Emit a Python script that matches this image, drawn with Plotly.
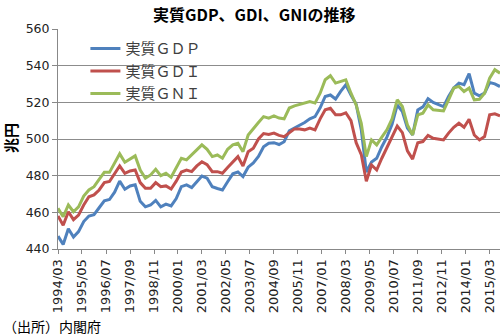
import pandas as pd
import plotly.graph_objects as go

# Quarterly periods 1994/03 .. 2015/09
periods = pd.date_range("1994-03-01", "2015-09-01", freq="3MS")

gdp = [447.0, 442.5, 451.0, 446.5, 449.5, 455.0, 458.0, 458.7, 462.5, 466.3,
       467.0, 471.0, 477.0, 472.6, 474.4, 475.0, 466.0, 463.0, 464.0, 466.5,
       463.0, 464.5, 463.5, 467.5, 474.0, 475.0, 473.5, 477.0, 479.8, 478.6,
       474.0, 473.0, 472.2, 476.7, 481.0, 482.0, 479.5, 484.6, 487.0, 490.5,
       495.8, 497.7, 498.0, 497.0, 498.5, 504.5, 506.0, 507.5, 509.0, 511.0,
       512.2, 517.0, 523.2, 524.0, 521.8, 526.0, 529.6, 524.0, 519.0, 505.0,
       482.0, 487.5, 489.5, 495.8, 501.0, 508.0, 518.6, 515.0, 506.0, 502.2,
       515.9, 517.5, 522.0, 519.9, 518.6, 517.7, 523.2, 527.8, 530.5, 529.6,
       535.6, 525.0, 523.5, 525.0, 530.8, 530.1, 528.6]

gdi = [458.0, 453.0, 460.3, 456.0, 458.5, 464.0, 468.5, 469.5, 472.2, 476.2,
       476.8, 481.3, 485.3, 481.3, 482.6, 483.1, 476.2, 473.1, 473.1, 476.2,
       474.0, 474.4, 472.7, 477.0, 482.0, 483.0, 482.2, 485.3, 487.6, 486.0,
       482.2, 482.2, 481.3, 484.5, 487.6, 490.4, 485.3, 493.1, 495.0, 500.0,
       503.0, 502.5, 503.2, 502.0, 501.3, 503.5, 505.5, 505.5, 505.0, 506.0,
       505.0, 511.0, 515.9, 516.8, 513.2, 513.2, 514.3, 510.0, 498.0, 491.5,
       477.0, 485.8, 483.1, 489.5, 495.5, 501.0, 507.0, 503.5, 493.5, 489.0,
       498.0, 498.6, 502.0, 500.4, 499.9, 499.5, 503.2, 506.4, 508.6, 506.4,
       510.8, 502.2, 499.5, 501.3, 513.2, 513.7, 512.6]

gni = [462.2, 457.6, 464.0, 460.3, 463.0, 468.9, 472.2, 474.0, 478.0, 481.8,
       481.8, 487.1, 491.9, 487.3, 489.0, 490.8, 483.1, 478.6, 480.4, 483.5,
       480.0, 481.3, 479.1, 484.0, 489.5, 488.6, 491.3, 494.0, 496.8, 494.4,
       490.4, 491.3, 489.5, 494.4, 496.8, 497.7, 493.1, 502.2, 505.9, 509.0,
       512.2, 511.4, 512.6, 511.4, 511.0, 516.9, 518.1, 519.0, 519.6, 520.4,
       519.6, 525.0, 532.3, 534.5, 530.5, 531.4, 532.3, 525.0, 518.6, 508.6,
       490.4, 499.5, 496.8, 501.0, 505.0, 511.0, 521.4, 517.7, 507.7, 502.2,
       513.2, 514.1, 518.6, 515.9, 515.5, 515.3, 521.4, 527.8, 528.7, 525.9,
       527.8, 521.4, 521.7, 525.0, 533.2, 537.8, 535.9]

tick_labels = ["1994/03", "1995/05", "1996/07", "1997/09", "1998/11", "2000/01",
               "2001/03", "2002/05", "2003/07", "2004/09", "2005/11", "2007/01",
               "2008/03", "2009/05", "2010/07", "2011/09", "2012/11", "2014/01",
               "2015/03"]
tick_vals = [pd.Timestamp(t.replace("/", "-") + "-01") for t in tick_labels]

series = [("実質ＧＤＰ", gdp, "#4F81BD"),
          ("実質ＧＤＩ", gdi, "#C0504D"),
          ("実質ＧＮＩ", gni, "#9BBB59")]

fig = go.Figure()
for name, vals, col in series:
    fig.add_trace(go.Scatter(x=periods, y=vals, name=name, mode="lines",
                             line=dict(color=col, width=3)))

CJK = "Noto Sans CJK JP"
fig.update_layout(
    width=500, height=336,
    margin=dict(l=58, r=0, t=29, b=87),
    paper_bgcolor="white", plot_bgcolor="white",
    showlegend=True,
    legend=dict(x=0.062, y=0.985, xanchor="left", yanchor="top",
                bgcolor="rgba(0,0,0,0)", font=dict(family=CJK, size=15, color="#404040"),
                itemwidth=30, tracegroupgap=0),
    xaxis=dict(type="date", range=["1994-03-01", "2015-09-01"],
               tickvals=tick_vals, ticktext=tick_labels, tickangle=-90,
               ticks="outside", ticklen=4, tickcolor="#888888",
               showline=True, linecolor="#888888", linewidth=1,
               showgrid=False, zeroline=False,
               tickfont=dict(family="DejaVu Sans", size=13, color="#222222")),
    yaxis=dict(range=[440, 560], dtick=20, tick0=440,
               ticks="outside", ticklen=5, tickcolor="#888888",
               showline=True, linecolor="#888888", linewidth=1,
               showgrid=True, gridcolor="#8c8c8c", gridwidth=1, zeroline=False,
               tickfont=dict(family="DejaVu Sans", size=12.5, color="#222222")),
)

fig.add_annotation(text="<b>実質GDP、GDI、GNIの推移</b>", xref="paper", yref="paper",
                   x=(254 - 58) / 442, y=1 + (29 - 14) / 220, xanchor="center",
                   yanchor="middle", showarrow=False,
                   font=dict(family=CJK, size=16, color="black"))
fig.add_annotation(text="<b>兆円</b>", xref="paper", yref="paper",
                   x=(10 - 58) / 442, y=(249 - 138) / 220, textangle=-90,
                   xanchor="center", yanchor="middle", showarrow=False,
                   font=dict(family=CJK, size=15, color="black"))
fig.add_annotation(text="（出所）内閣府", xref="paper", yref="paper",
                   x=(1 - 58) / 442, y=(249 - 326) / 220, xanchor="left",
                   yanchor="middle", showarrow=False,
                   font=dict(family=CJK, size=14, color="black"))

fig.write_html("out.html")
